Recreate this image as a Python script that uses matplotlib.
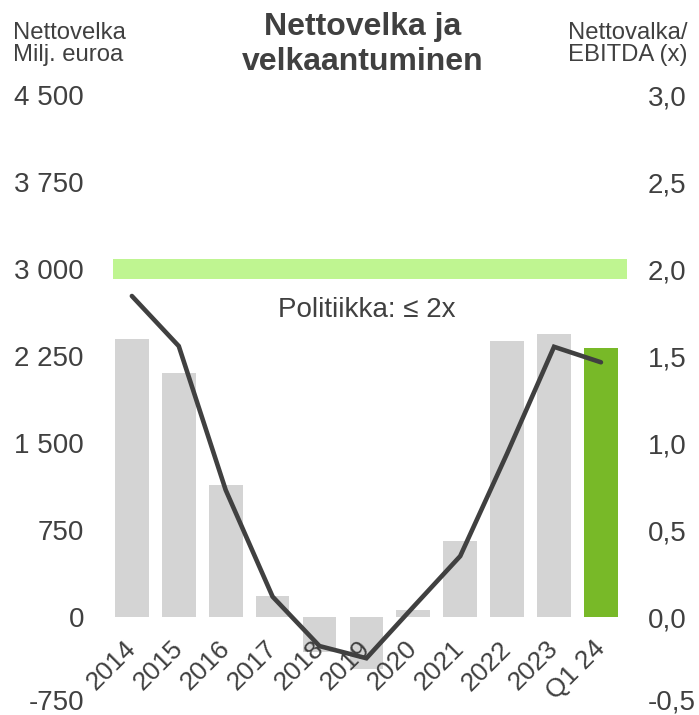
import matplotlib
matplotlib.use("Agg")
import matplotlib.pyplot as plt
import matplotlib.transforms as mtransforms
import numpy as np

categories = ["2014", "2015", "2016", "2017", "2018", "2019", "2020", "2021", "2022", "2023", "Q1 24"]
net_debt = [2400, 2100, 1135, 177, -299, -446, 58, 655, 2380, 2440, 2320]
leverage = [1.845, 1.557, 0.73, 0.117, -0.167, -0.237, 0.058, 0.35, 0.94, 1.553, 1.464]
left_ticks = [-750, 0, 750, 1500, 2250, 3000, 3750, 4500]
left_labels = ["-750", "0", "750", "1 500", "2 250", "3 000", "3 750", "4 500"]
right_ticks = [-0.5, 0.0, 0.5, 1.0, 1.5, 2.0, 2.5, 3.0]
right_labels = ["-0,5", "0,0", "0,5", "1,0", "1,5", "2,0", "2,5", "3,0"]
policy_band = (2915, 3090)
policy_text = "Politiikka: ≤ 2x"

TXT = "#404040"
plt.rcParams["font.family"] = ["Liberation Sans", "DejaVu Sans"]

fig = plt.figure(figsize=(6.99, 7.15), dpi=100)
ax = fig.add_axes([0.1612, 0.01538, 0.7353, 0.8517])
x = np.arange(len(categories))

colors = ["#d4d4d4"] * (len(categories) - 1) + ["#78b928"]
ax.axhspan(policy_band[0], policy_band[1], color="#bff591", zorder=1, lw=0)
ax.bar(x, net_debt, width=0.72, color=colors, zorder=2)

ax.set_xlim(-0.409, 10.548)
ax.set_ylim(-750, 4500)
ax.set_yticks(left_ticks)
ax.set_yticklabels(left_labels)
ax.set_xticks([])
ax.tick_params(axis="y", length=0, pad=20.7, labelsize=20, labelcolor=TXT)
for s in ax.spines.values():
    s.set_visible(False)

for i, lab in enumerate(categories):
    ax.annotate(lab, xy=(i, 0), xytext=(-6, -14), textcoords="offset points",
                rotation=45, ha="right", va="top", rotation_mode="anchor",
                fontsize=19, color=TXT, zorder=5)

ax.text(5.0, 2647, policy_text, ha="center", va="center", fontsize=20, color=TXT, zorder=5)

ax2 = ax.twinx()
ax2.set_ylim(-0.5, 3.0)
ax2.set_yticks(right_ticks)
ax2.set_yticklabels(right_labels)
ax2.tick_params(axis="y", length=0, pad=15.3, labelsize=20, labelcolor=TXT)
for s in ax2.spines.values():
    s.set_visible(False)
ax2.plot(x, leverage, color="#404040", lw=3.3, solid_joinstyle="miter", solid_capstyle="round", zorder=4)

# nudge the lowest tick labels up slightly so they stay inside the figure
fig.canvas.draw()
up = mtransforms.ScaledTranslation(0, 3 / 72, fig.dpi_scale_trans)
for lbl in [ax.get_yticklabels()[0], ax2.get_yticklabels()[0]]:
    lbl.set_transform(lbl.get_transform() + up)

W, H = 699, 715
def fx(px):
    return px / W
def fy(py):
    return 1 - py / H

fig.text(fx(12.7), fy(39.3), "Nettovelka", fontsize=17.2, color=TXT, ha="left", va="baseline")
fig.text(fx(12.7), fy(60.7), "Milj. euroa", fontsize=17.2, color=TXT, ha="left", va="baseline")
fig.text(fx(687), fy(39.3), "Nettovalka/", fontsize=17.2, color=TXT, ha="right", va="baseline")
fig.text(fx(687), fy(60.7), "EBITDA (x)", fontsize=17.2, color=TXT, ha="right", va="baseline")
fig.text(fx(363), fy(35.5), "Nettovelka ja", fontsize=23, fontweight="bold", color=TXT, ha="center", va="baseline")
fig.text(fx(363), fy(69.5), "velkaantuminen", fontsize=23, fontweight="bold", color=TXT, ha="center", va="baseline")

fig.savefig("out.png", dpi=100, facecolor="white")
